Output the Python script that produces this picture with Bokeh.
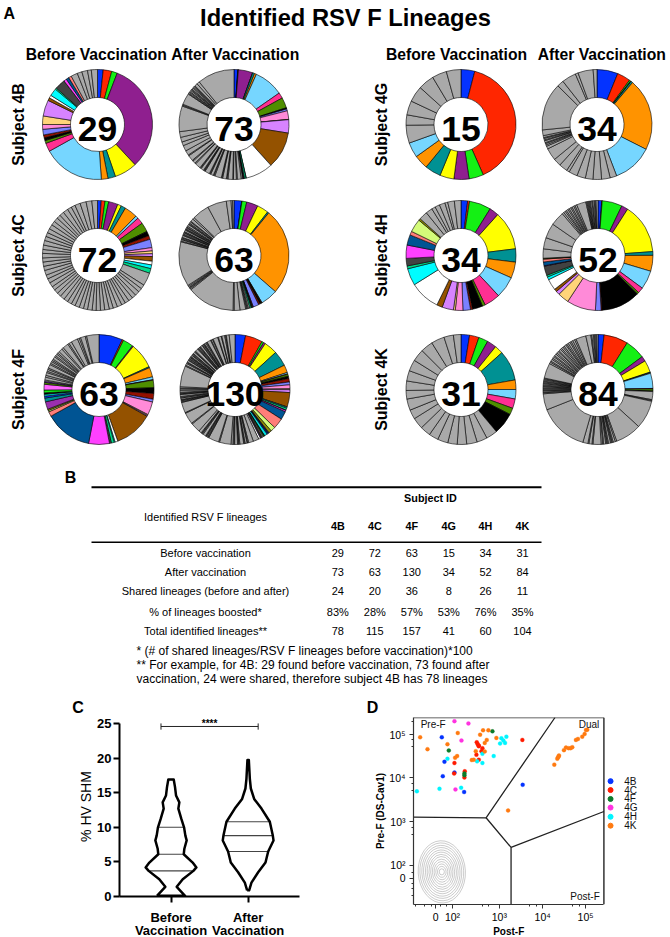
import numpy as np
from bokeh.plotting import figure
from bokeh.models import (ColumnDataSource, Range1d, FixedTicker)
from bokeh.layouts import column, row
from bokeh.core.properties import value
from bokeh.embed import file_html
from bokeh.resources import INLINE

FONT = "Liberation Sans"

# ---------- Panel A data: slice widths (degrees, clockwise from 12 o'clock) ----------
SUBJECTS = ["4B", "4C", "4F", "4G", "4H", "4K"]
BEFORE_N = [29, 72, 63, 15, 34, 31]
AFTER_N = [73, 63, 130, 34, 52, 84]
SHARED_N = [24, 20, 36, 8, 26, 11]
BOOSTED = ["83%", "28%", "57%", "53%", "76%", "35%"]
TOTAL_N = [78, 115, 157, 41, 60, 104]

s4B_before = [6, 9, 6, 116, 24, 8, 7, 65, 9, 3, 3, 3, 6, 5, 9, 17, 3, 3, 8, 1.5, 11, 3, 3, 3,
              7, 5, 6, 4, 6.5]
s4B_after = [4, .3, .3, 15, .3, 2, 2, 31, 6, 11, 1, .3, 2, 9, .3, 14, 38.7, 29, .4, 1.6, 1, .3, .3, .3,
             1.5, 4, 1, 3, .8, 5, 1, .6, 4, .8, .6, 7, 1, .7, 3, .7, .8, 5, .7, .6, .7, 3, .8, .7, 6, 1, 3, 1, 6, 1, 5, 6, 4, 5, 6,
             27, 1, 1, 12, .8, 1.2, 1, 1.5, 1, 1, 1.5, 1, 1, 1, 3, 3, 39]
s4C_before = [4, 4, 4, 10, 4, 5, 14, 3, 7, 10, 5, 4, 9, 3.5, 3, 3, 5, 4, 4, 5,
              14, 4.6, 4.2, 5, 4.4, 4.8, 4.5, 4.2, 5.1, 4.6, 4.3, 4.9, 4.5, 4.7, 4.2, 5, 4.4, 4.6, 4.8, 4.3, 4.7,
              4.5, 5, 4.4, 4.6, 4.2, 4.9, 4.7, 4.3, 5.2, 4.5, 4.6, 4.4, 4.8, 4.2, 4.7, 5, 4.5, 4.3, 4.6, 4.9, 4.4,
              4.7, 4.2, 4.8, 5.4, 4.6, 4.3, 5.8, 6.5, 6.2, 6]
s4C_after = [8, .3, 5, 12, 12, 1.5, 91, 18, .5, .5, 1.5, 1.5, 6, .5, .4, .4, .4, .3, .4, 1.5,
             1.5, 1, .8, 1, 6, 6, 1.2, 50, 1.2, 1, .8, 1.2, 1.2, 47,
             .8, 1.5, .7, 1, .8, 2, .7, .9, 1.2, .7, .8, 1.8, .8, .7, 1.2, .8, 1.2, 2, .8, 1, 1.5, .8, 3, 2,
             18, 20, 5, 1.5, 1.5]
s4F_before = [25, 1.5, 11, 1, 27, 1.2, 10, 3, .5, 8, 6, 6, 3, 14, 1, 1, 40.8, 3, 1, 3, 2, 22, 50, 5, 1.5, 1.5,
              8, 4, 2, 2, 1.5, 3, 6, 2, 1.5, 1,
              3, 2, 3, 1.5, 2, 1.5, 4, 1.5, 2, 1.5, 1.5, 3, 1.5, 2, 1.5, 2, 4, 2, 6, 1.5, 3, 7, 2, 1.5, 5, 1.5, 13]
s4F_after = [11, 18, 2, 2, 14, 16, 8, 1.5, .5, 2, 2.5, 3.5, 3, 4, 1, 3, 15, .5, 1, 2, .5, 1.5, 8.5, 11, 5, 3,
             .7, .7, 1, 3, 1, 1, 1, 1, 1, 2,
             6, 5, 1, .7, 2, .8, .7, 4, 1, .7, .7, 3, .8, 1, 2, 12, 1, 11, .7, .7, 1, .7, .7, 3, 1, .7, .8, 3, 10, 1, 12,
             .8, 11, .7, 1, .7, .7, 1.5, .7, 1, 2, .7, .7, 1, 2, 1.5, .7, 1.5, 22, 1, 2, 1, .7, 2, .7, 1, .7, 1, .7, .7,
             1.5, .7, 1, .7, 2, .7, .7, 3, .7, .7, 1, .7, .7, 2, .7, 1, .7, .7, 1.5, 1, .7, 4, .7, 1.5, .7, 5, .7, 3, .7,
             3, 1, .7, 3, 6]
s4G_before = [14.6, 142, 15.4, 16, 15, 17, 15, 16, 19, 11, 15, 17, 17, 15.5, 15.5]
s4G_after = [22, 14, 1.5, .3, .3, 1.9, 76, 42,
             7, 9, 9, 8, 9, 9, 3, 9, 8, 13, 3, 1.5, 1.5, 1, 2, 1, 1.5, 1, 2, 6, 50, 7, 15, 3, 16, 4]
s4H_before = [7, 2, 23, 10, 41, 14, 17, 23, 17, 3, 11, 2, 8, 8, 2, 12, 6, 32, 18, 3, 8, 14, 11, 4, 14, 2,
              9, 7, 4, 5, 6, 3, 7, 7]
s4H_after = [4, .5, 21.5, 7, 54, 4, 17, 20, 6, 2, 42, 1, 6, 31, 12, 4, 3, 12, 3, 2, 10, .5, 4, 3, .5, .5,
             10, 12, 16, 15, 2, 2, 1.5, 2, 1.5, 2, 1.5, 2, 1.5, 2, 10, 1, 1, 1, 1, 1, 1.5, 1, 1.5, 1, 1, 2]
s4K_before = [9, 10, 10, 10, 9, 32, 10, 10, 10, 7, 23,
              12, 11, 11, 10, 10, 11, 10, 11, 12, 10, 12, 9, 10, 11, 12, 13, 13, 14, 10, 8]
s4K_after = [6, 24, 20, 5, 12, .6, .6, 15, .5, 2, .6,
             8, .8, .8, 28, 26, 1.5, 2, 1, .8, 1, 2, 1, .8, 1, 2, 1, 1.5, 8, 1, 3, 1, 5, 49, 16,
             1, .8, 1.2, .8, 1, .9, 1.2, .8, 1, 1.2, .8, 1, .9, 1.2, 1, .8, 15,
             1.6, 1.2, 2, 1.4, 1.8, 1.2, 2, 1.5, 1.8, 1.2, 2, 1.4, 1.8, 1.5, 2, 1.2, 1.6, 2, 1.4, 1.8, 2, 1.5,
             10, 5, 1, 1.5, 1, 1.2, 1, 1.3]

# Shared lineages take these colours in order; lineages found once are grey.
LINEAGE_COLORS = ["#0433ff", "#ff2600", "#14f014", "#8f1f8f", "#ffff00", "#009193", "#ff9300", "#76d6ff",
                  "#ff2f92", "#4f8f00", "#000000", "#941100", "#7a81ff", "#ff8ad8", "#ffd479", "#d783ff",
                  "#945200", "#ffffff", "#00fdff", "#00d98a", "#424242", "#ff40ff", "#005493", "#ff7e79",
                  "#d4fb79", "#8e8e00", "#9b2fae", "#009193", "#0433ff", "#00e0e0", "#000000", "#14f014",
                  "#ff66ff", "#4f8f00", "#5a1ea0", "#ffffff"]
UNIQUE_COLOR = "#a9a9a9"

# ---------- Panel B data ----------
ROW_LABELS = ["Before vaccination", "After vaccination", "Shared lineages (before and after)",
              "% of lineages boosted*", "Total identified lineages**"]
FOOTNOTES = ["* (# of shared lineages/RSV F lineages before vaccination)*100",
             "** For example, for 4B: 29 found before vaccination, 73 found after",
             "vaccination, 24 were shared, therefore subject 4B has 78 lineages"]

# ---------- Panel C data: violin half-widths by % HV SHM ----------
before_shm = [0.1, 1.4, 2.5, 3.7, 4.2, 4.9, 6.1, 6.9, 8.1, 8.8, 10, 11.2, 12.7, 13.6, 14.6, 15.8, 16.9]
before_dens = [.182, .074, .152, .29, .329, .281, .165, .173, .203, .186, .169, .134, .095, .108, .065, .052, .035]
after_shm = [0.9, 2.0, 3.5, 4.9, 6.5, 8.1, 8.8, 10.8, 12.7, 14.1, 15.6, 17, 19.7]
after_dens = [.013, .043, .13, .225, .26, .329, .32, .281, .173, .078, .035, .022, .009]
before_quart = [3.7, 6.1, 10]
after_quart = [6.5, 8.8, 10.8]
C_LABELS_1 = ["Before", "After"]
C_LABELS_2 = ["Vaccination", "Vaccination"]

# ---------- Panel D data (biexponential display units; 4 = 10^4) ----------
x4B = [1.651, 1.713, 1.674, 1.946, 2.171, 3.535]
y4B = [4.94, 4.383, 4.053, 4.135, 3.692, 3.857]
x4C = [1.946, 1.938, 2.186, 2.178, 2.465, 2.488, 2.512, 2.512, 2.597, 2.574, 2.457, 2.512, 3.527]
y4C = [4.353, 4.113, 4.165, 4.023, 4.827, 4.782, 4.752, 4.737, 4.692, 4.624, 4.541, 4.429, 4.88]
x4F = [2.83, 1.814, 2.178, 2.178]
y4F = [5.075, 4.639, 4.113, 4.075]
x4G = [1.946, 2.271, 2.109, 1.969]
y4G = [5.308, 5.256, 4.865, 3.752]
x4H = [3.039, 3.085, 3.008, 3.124, 3.155, 2.597, 2.86, 2.473, 2.597, 1.783, 1.07, 1.597, 2.101]
y4H = [4.917, 4.865, 4.797, 4.812, 4.955, 4.564, 4.511, 4.391, 4.353, 4.451, 3.707, 3.767, 3.789]
x4K = [1.147, 1.318, 1.783, 2.023, 2.008, 1.961, 2.349, 2.395, 2.442, 2.651, 2.612, 2.736, 2.543, 2.651, 2.698,
       2.922, 3.194, 4.271, 4.341, 4.357, 4.372, 4.38, 4.496, 4.543, 4.605, 4.651, 4.69, 4.775, 4.822, 4.922,
       4.977, 5.008, 5.039]
y4K = [4.94, 4.669, 4.782, 5.038, 4.511, 4.474, 4.421, 4.429, 4.624, 4.617, 5.098, 5.098, 5.0, 4.812, 4.88,
       4.925, 3.271, 4.316, 4.451, 4.481, 4.504, 4.526, 4.647, 4.707, 4.692, 4.692, 4.714, 4.88, 4.902, 4.955,
       5.015, 5.105, 5.113]
D_COLORS = ["#0433ff", "#ff1a00", "#0a7a2a", "#ff33e0", "#00f5ff", "#ff7a10"]
GATE_X = [[0.992, 2.682, 4.287], [2.682, 3.264, 5.426], [3.264, 3.264]]
GATE_Y = [[3.12, 3.105, 5.391], [3.105, 2.429, 3.248], [2.429, 1.128]]
CONTOUR_W = [1.10, 1.02, .93, .85, .76, .68, .6, .52, .44, .36, .28, .2, .12]
CONTOUR_H = [1.42, 1.32, 1.21, 1.11, 1.0, .9, .8, .7, .58, .47, .36, .25, .14]
XT_POS = [1.51, 1.9, 2.99, 4, 5]
YT_POS = [1.726, 2.02, 3.02, 4.02, 5]
XT_MINOR = [1.05, 1.25, 1.4, 1.62, 1.75, 2.6, 2.75, 3.7, 3.85, 4.7, 4.85]
YT_MINOR = [1.33, 1.5, 1.6, 1.85, 2.72, 2.88, 3.72, 3.88, 4.72, 4.88, 5.3]
TICK_LABELS = ["0", "10²", "10³", "10⁴", "10⁵"]


def fs(px):
    return value(f"{px}px")


# ================ top figure: page pixels, y downward ================
top = figure(width=670, height=716, x_range=Range1d(0, 670), y_range=Range1d(716, 0),
             output_backend="svg", toolbar_location=None, min_border=0, outline_line_color=None)
top.axis.visible = False
top.grid.visible = False


def txt(x, y, s, size, bold=False, align="center", angle=0.0, color="#000000"):
    top.text(x=[x], y=[y], text=[s], text_font=value(FONT), text_font_size=fs(size),
             text_font_style="bold" if bold else "normal", text_align=align, text_baseline="middle",
             angle=angle, text_color=color)


def donut(cx, cy, widths, n_shared, count):
    w = np.array(widths, dtype=float)
    w = w / w.sum() * 2 * np.pi
    ends = np.cumsum(w)
    starts = ends - w
    cols = [LINEAGE_COLORS[i] if i < n_shared else UNIQUE_COLOR for i in range(len(w))]
    src = ColumnDataSource(dict(x=[cx] * len(w), y=[cy] * len(w), s=np.pi / 2 - ends, e=np.pi / 2 - starts, c=cols))
    top.annular_wedge(x="x", y="y", inner_radius=27, outer_radius=55, start_angle="s", end_angle="e",
                      fill_color="c", line_color="#000000", line_width=0.6, source=src)
    txt(cx, cy + 4, str(count), 35.5, True)


DONUTS = [(97, 124, s4B_before, 0, BEFORE_N), (233.5, 124, s4B_after, 0, AFTER_N),
          (97, 255, s4C_before, 1, BEFORE_N), (233.5, 255, s4C_after, 1, AFTER_N),
          (98.5, 389, s4F_before, 2, BEFORE_N), (234.5, 389, s4F_after, 2, AFTER_N),
          (460.5, 124, s4G_before, 3, BEFORE_N), (596.5, 124, s4G_after, 3, AFTER_N),
          (460.5, 255, s4H_before, 4, BEFORE_N), (597.5, 255, s4H_after, 4, AFTER_N),
          (460.5, 389, s4K_before, 5, BEFORE_N), (597.5, 389, s4K_after, 5, AFTER_N)]
for cx, cy, vals, si, counts in DONUTS:
    donut(cx, cy, vals, SHARED_N[si], counts[si])

txt(345, 17, "Identified RSV F Lineages", 23.7, True)
txt(3, 13, "A", 16, True, "left")
txt(77.5, 706.5, "C", 16, True)
txt(372, 706.5, "D", 16, True)
for xh, lab in [(95.8, "Before Vaccination"), (234.7, "After Vaccination"),
                (456, "Before Vaccination"), (601.3, "After Vaccination")]:
    txt(xh, 54, lab, 15.7, True)
for (xs, ys, si) in [(18, 124, 0), (18, 255, 1), (18, 389, 2), (381, 124, 3), (381, 255, 4), (381, 389, 5)]:
    txt(xs, ys, "Subject " + SUBJECTS[si], 16, True, angle=np.pi / 2)

# table
txt(70, 477, "B", 16, True)
top.segment(x0=[91, 91], x1=[541, 541], y0=[486.7, 541.7], y1=[486.7, 541.7], line_color="#000000",
            line_width=[2, 1.6])
COL_X = [337.3, 374.3, 411.3, 448.3, 485, 522]
ROW_Y = [552.7, 571.7, 590.7, 611.3, 630]
txt(430, 497.7, "Subject ID", 10.8, True)
txt(205, 516.7, "Identified RSV F lineages", 10.9)
columns = [BEFORE_N, AFTER_N, SHARED_N, BOOSTED, TOTAL_N]
for j, sid in enumerate(SUBJECTS):
    txt(COL_X[j], 525, sid, 10.8, True)
for i, lab in enumerate(ROW_LABELS):
    txt(205, ROW_Y[i], lab, 11)
    for j in range(6):
        txt(COL_X[j], ROW_Y[i], str(columns[i][j]), 11)
for fy, fn in zip([650.7, 664, 678.3], FOOTNOTES):
    txt(136, fy, fn, 12, align="left")

# ================ panel C ================
pc = figure(width=308, height=187, x_range=Range1d(0.332, 2.666), y_range=Range1d(0, 26),
            output_backend="svg", toolbar_location=None, outline_line_color=None,
            min_border_left=119, min_border_right=9, min_border_top=0, min_border_bottom=7)
pc.grid.visible = False


def violin(center, shm, dens, quart):
    shm = np.array(shm)
    dens = np.array(dens)
    xs = np.r_[center - dens, (center + dens)[::-1], center - dens[0]]
    ys = np.r_[shm, shm[::-1], shm[0]]
    hw = np.interp(quart, shm, dens)
    pc.segment(x0=center - hw, x1=center + hw, y0=quart, y1=quart, line_color="#444444", line_width=1.1)
    pc.line(xs, ys, line_color="#000000", line_width=2.5, line_join="round")


violin(1, before_shm, before_dens, before_quart)
violin(2, after_shm, after_dens, after_quart)
pc.segment(x0=[0.87, 0.87, 2.13], x1=[2.13, 0.87, 2.13], y0=[24.56, 24.1, 24.1], y1=[24.56, 25.0, 25.0],
           line_color="#222222", line_width=1)
pc.text(x=[1.5], y=[24.95], text=["****"], text_font=value(FONT), text_font_size=fs(10), text_font_style="bold",
        text_align="center", text_baseline="middle")
pc.yaxis.bounds = (0, 25)
pc.yaxis.ticker = FixedTicker(ticks=[0, 5, 10, 15, 20, 25])
pc.xaxis.ticker = FixedTicker(ticks=[1, 2])
pc.xaxis.major_label_overrides = {1: "", 2: ""}
pc.xaxis.major_label_standoff = 0
pc.yaxis.axis_label = "% HV SHM"
pc.yaxis.axis_label_text_font_style = "normal"
pc.yaxis.axis_label_text_color = "#000000"
pc.yaxis.axis_label_text_font_size = "14px"
pc.yaxis.axis_label_text_font = FONT
pc.yaxis.axis_label_standoff = 0
for ax in (pc.xaxis[0], pc.yaxis[0]):
    ax.axis_line_width = 2
    ax.axis_line_color = "#000000"
    ax.major_tick_line_width = 2
    ax.major_tick_line_color = "#000000"
    ax.major_tick_out = 6
    ax.major_tick_in = 0
    ax.minor_tick_out = 0
    ax.minor_tick_in = 0
pc.yaxis.major_label_text_font = FONT
pc.yaxis.major_label_text_font_size = "13px"
pc.yaxis.major_label_text_font_style = "bold"
pc.yaxis.major_label_text_color = "#000000"
pc.yaxis.major_label_standoff = 2

# group labels of panel C, in a strip under its axis (same x scale)
pc_lab = figure(width=308, height=34, x_range=pc.x_range, y_range=Range1d(937, 903), output_backend="svg",
                toolbar_location=None, outline_line_color=None, min_border_left=119, min_border_right=9,
                min_border_top=0, min_border_bottom=0)
pc_lab.axis.visible = False
pc_lab.grid.visible = False
for labels, ly in ((C_LABELS_1, 917), (C_LABELS_2, 930)):
    pc_lab.text(x=[1, 2], y=[ly, ly], text=labels, text_font=value(FONT), text_font_size=fs(13),
                text_font_style="bold", text_align="center", text_baseline="middle")

# ================ panel D ================
# The frame runs on to the right edge of the page so that it also holds the legend.
D_X_END = 5.426
pd_ = figure(width=362, height=209, x_range=Range1d(0.992, 6.977), y_range=Range1d(1.128, 5.391),
             output_backend="svg", toolbar_location=None, outline_line_color=None,
             min_border_left=105, min_border_right=0, min_border_top=1, min_border_bottom=19)
pd_.grid.visible = False
pd_.segment(x0=[0.992, D_X_END], x1=[D_X_END, D_X_END], y0=[5.391, 5.391], y1=[5.391, 1.128],
            line_color="#333333", line_width=1.5)
for w, h in zip(CONTOUR_W, CONTOUR_H):
    pd_.ellipse(x=[1.651], y=[1.872], width=[w], height=[h], angle=[0.05], fill_color=None,
                line_color="#808080", line_width=0.5, line_alpha=0.8)
pd_.multi_line(xs=GATE_X, ys=GATE_Y, line_color="#222222", line_width=1.3)
for name, xv, yv, c in zip(SUBJECTS, [x4B, x4C, x4F, x4G, x4H, x4K], [y4B, y4C, y4F, y4G, y4H, y4K], D_COLORS):
    pd_.scatter(xv, yv, size=4, fill_color=c, line_color=c, line_width=0.3)
pd_.text(x=[1.45, 5.08, 5.33], y=[5.23, 5.23, 1.31], text=["Pre-F", "Dual", "Post-F"], text_font=value(FONT),
         text_font_size=fs(10), text_align=["center", "center", "right"], text_baseline="middle",
         text_color="#111111")
LEG_Y = [3.94, 3.737, 3.534, 3.338, 3.128, 2.925]
pd_.scatter(x=[5.581] * 6, y=LEG_Y, size=5, fill_color=D_COLORS, line_color=D_COLORS)
pd_.text(x=[5.9] * 6, y=LEG_Y, text=SUBJECTS, text_font=value(FONT), text_font_size=fs(10), text_align="left",
         text_baseline="middle", text_color="#111111")
pd_.xaxis.bounds = (0.992, D_X_END)
pd_.xaxis.ticker = FixedTicker(ticks=XT_POS, minor_ticks=XT_MINOR)
pd_.yaxis.ticker = FixedTicker(ticks=YT_POS, minor_ticks=YT_MINOR)
pd_.xaxis.major_label_overrides = dict(zip(XT_POS, TICK_LABELS))
pd_.yaxis.major_label_overrides = dict(zip(YT_POS, TICK_LABELS))
pd_.yaxis.axis_label = "Pre-F (DS-Cav1)"
for ax in (pd_.xaxis[0], pd_.yaxis[0]):
    ax.axis_label_text_font = FONT
    ax.axis_label_text_color = "#000000"
    ax.axis_label_text_font_size = "10px"
    ax.axis_label_text_font_style = "bold"
    ax.axis_label_standoff = 0
    ax.axis_line_color = "#333333"
    ax.axis_line_width = 1.2
    ax.major_tick_line_color = "#333333"
    ax.minor_tick_line_color = "#333333"
    ax.major_tick_out = 4
    ax.major_tick_in = 0
    ax.minor_tick_out = 2
    ax.minor_tick_in = 0
    ax.major_label_text_font = FONT
    ax.major_label_text_color = "#000000"
    ax.major_label_text_font_size = "10.5px"
pd_.xaxis.major_label_standoff = 2
pd_.yaxis.major_label_standoff = 4

pd_lab = figure(width=362, height=12, x_range=pd_.x_range, y_range=Range1d(937, 925), output_backend="svg",
                toolbar_location=None, outline_line_color=None, min_border_left=105, min_border_right=0,
                min_border_top=0, min_border_bottom=0)
pd_lab.axis.visible = False
pd_lab.grid.visible = False
pd_lab.text(x=[3.209], y=[931], text=["Post-F"], text_font=value(FONT), text_font_size=fs(10),
            text_font_style="bold", text_align="center", text_baseline="middle")

layout = column(top, row(column(pc, pc_lab, spacing=0), column(pd_, pd_lab, spacing=0), spacing=0), spacing=0)
open("out.html", "w").write(file_html(layout, INLINE))
